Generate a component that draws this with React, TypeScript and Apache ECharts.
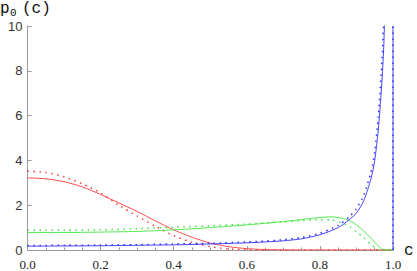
import React, { useEffect, useRef } from "react";
import * as echarts from "echarts";

// ---- data ----
const xTicks = [0, 0.2, 0.4, 0.6, 0.8, 1.0];
const yTicks = [0, 2, 4, 6, 8, 10];

const cRed = [0, 0.05, 0.1, 0.15, 0.2, 0.25, 0.3, 0.35, 0.4, 0.45, 0.5, 0.55, 0.6, 0.65, 0.7, 0.8, 0.9, 1.0];
const redSolid = [3.22, 3.18, 3.05, 2.82, 2.48, 2.1, 1.72, 1.3, 0.9, 0.57, 0.31, 0.15, 0.06, 0.02, 0.005, 0, 0, 0];
const redDotted = [3.52, 3.46, 3.27, 2.95, 2.55, 2.0, 1.52, 1.05, 0.64, 0.34, 0.15, 0.05, 0.015, 0.003, 0, 0, 0, 0];

const cGreen = [0, 0.1, 0.2, 0.3, 0.4, 0.5, 0.6, 0.7, 0.75, 0.8, 0.83, 0.86, 0.88, 0.9, 0.92, 0.94, 0.96, 0.97, 0.98, 1.0];
const greenSolid = [0.78, 0.78, 0.8, 0.83, 0.9, 1.0, 1.12, 1.27, 1.36, 1.45, 1.48, 1.42, 1.32, 1.12, 0.85, 0.52, 0.18, 0.03, 0, 0];
const greenDotted = [0.88, 0.88, 0.9, 0.95, 1.02, 1.08, 1.16, 1.26, 1.31, 1.36, 1.34, 1.22, 1.05, 0.82, 0.55, 0.25, 0.02, 0, 0, 0];

const cBlue = [0, 0.1, 0.2, 0.3, 0.4, 0.5, 0.6, 0.65, 0.7, 0.75, 0.8, 0.85, 0.88, 0.9, 0.92, 0.94, 0.95, 0.96, 0.97, 0.975, 0.98];
const blueSolid = [0.17, 0.18, 0.19, 0.21, 0.23, 0.27, 0.32, 0.36, 0.41, 0.5, 0.68, 1.0, 1.35, 1.65, 2.2, 3.2, 4.0, 5.4, 7.6, 9.2, 12];
const blueDotted = [0.2, 0.21, 0.22, 0.24, 0.27, 0.3, 0.36, 0.4, 0.46, 0.56, 0.75, 1.1, 1.48, 1.85, 2.45, 3.5, 4.4, 6.0, 8.5, 10.5, 14];

const cEdge = [1.0, 1.0];
const blueEdge = [0, 10];

const RED = "#ff3a3a";
const GREEN = "#3ee63e";
const BLUE = "#3030ff";

function pairs(xs: number[], ys: number[]) {
  return xs.map((x, i) => [x, ys[i]]);
}

export default function App() {
  const ref = useRef<HTMLDivElement>(null);
  useEffect(() => {
    if (!ref.current) return;
    const chart = echarts.init(ref.current, null, { renderer: "svg" });
    const solid = (name: string, color: string, data: number[][]) => ({
      name,
      type: "line",
      data,
      showSymbol: false,
      smooth: 0.25,
      clip: true,
      lineStyle: { color, width: 0.9, type: "solid" },
    });
    const dotted = (name: string, color: string, data: number[][]) => ({
      name,
      type: "line",
      data,
      showSymbol: false,
      smooth: 0.25,
      clip: true,
      lineStyle: { color, width: 1.5, type: [1.5, 4.5] },
    });
    chart.setOption({
      animation: false,
      grid: { left: 27.5, right: 24, top: 26, bottom: 20, containLabel: false },
      xAxis: {
        type: "value",
        min: 0,
        max: 1,
        interval: 0.2,
        axisLine: { show: true, lineStyle: { color: "#9a9a9a", width: 1 } },
        axisTick: { show: true, inside: true, length: 4, lineStyle: { color: "#9a9a9a" } },
        minorTick: { show: true, splitNumber: 4, length: 2.5, lineStyle: { color: "#9a9a9a" } },
        splitLine: { show: false },
        axisLabel: {
          margin: 8,
          color: "#222",
          fontFamily: "'Liberation Serif', 'DejaVu Serif', serif",
          fontSize: 13,
          formatter: (v: number) => (xTicks.some((t) => Math.abs(t - v) < 1e-9) ? v.toFixed(1) : ""),
        },
      },
      yAxis: {
        type: "value",
        min: 0,
        max: 10,
        interval: 2,
        axisLine: { show: true, lineStyle: { color: "#9a9a9a", width: 1 } },
        axisTick: { show: true, inside: true, length: 4, lineStyle: { color: "#9a9a9a" } },
        splitLine: { show: false },
        axisLabel: {
          margin: 5,
          color: "#333",
          fontFamily: "'Liberation Sans', sans-serif",
          fontSize: 13,
          formatter: (v: number) => (yTicks.includes(v) ? String(v) : ""),
        },
      },
      series: [
        solid("red", RED, pairs(cRed, redSolid)),
        dotted("red dotted", RED, pairs(cRed, redDotted)),
        solid("green", GREEN, pairs(cGreen, greenSolid)),
        dotted("green dotted", GREEN, pairs(cGreen, greenDotted)),
        solid("blue", BLUE, pairs(cBlue, blueSolid)),
        dotted("blue dotted", BLUE, pairs(cBlue, blueDotted)),
        { ...solid("blue edge", BLUE, pairs(cEdge, blueEdge)), smooth: false },
        { ...dotted("blue edge dotted", BLUE, pairs(cEdge, blueEdge)), smooth: false },
      ],
      graphic: [
        { type: "text", left: 0, top: 1, style: { text: "p", font: "16px 'Liberation Mono'", fill: "#111" } },
        { type: "text", left: 10, top: 7, style: { text: "0", font: "11px 'Liberation Mono'", fill: "#111" } },
        { type: "text", left: 22, top: 1, style: { text: "(c)", font: "16px 'Liberation Mono'", fill: "#111" } },
        { type: "text", left: 404, top: 243, style: { text: "c", font: "16px 'Liberation Mono'", fill: "#111" } },
      ],
    });
    return () => chart.dispose();
  }, []);
  return (
    <div
      ref={ref}
      style={{ position: "fixed", left: 0, top: 0, width: 417, height: 271, background: "#fff" }}
    />
  );
}
